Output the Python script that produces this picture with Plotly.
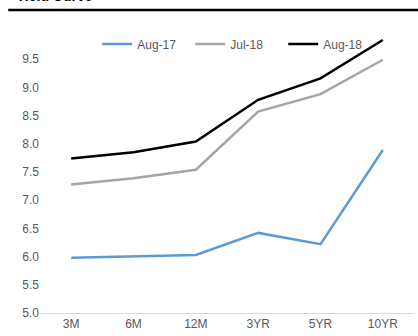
import plotly.graph_objects as go

categories = ["3M", "6M", "12M", "3YR", "5YR", "10YR"]
aug17 = [5.98, 6.00, 6.03, 6.42, 6.22, 7.89]
jul18 = [7.28, 7.39, 7.54, 8.57, 8.88, 9.49]
aug18 = [7.74, 7.85, 8.04, 8.78, 9.16, 9.84]
series_names = ["Aug-17", "Jul-18", "Aug-18"]
series_colors = ["#5b9bd5", "#a5a5a5", "#000000"]
ytick_vals = [5.0, 5.5, 6.0, 6.5, 7.0, 7.5, 8.0, 8.5, 9.0, 9.5]

FONT = "Liberation Sans Narrow, Arial Narrow, Liberation Sans, Arial"

fig = go.Figure()
for name, vals, col in zip(series_names, [aug17, jul18, aug18], series_colors):
    fig.add_trace(go.Scatter(x=categories, y=vals, mode="lines", name=name,
                             line=dict(color=col, width=2.5), cliponaxis=False))

fig.update_layout(
    width=418, height=336,
    margin=dict(l=40, r=4, t=31, b=23),
    paper_bgcolor="white", plot_bgcolor="white",
    font=dict(family=FONT, size=12, color="#595959"),
    showlegend=True,
    legend=dict(orientation="h", x=0.153, y=1 - 13 / 282, xanchor="left", yanchor="middle",
                font=dict(family=FONT, size=12, color="#595959"),
                bgcolor="rgba(0,0,0,0)", itemwidth=30, tracegroupgap=0,
                entrywidth=48, entrywidthmode="pixels"),
    xaxis=dict(type="category", range=[-0.5, 5.5], showgrid=False, zeroline=False,
               showline=True, linecolor="#d9d9d9", linewidth=1, ticks="",
               tickfont=dict(family=FONT, size=12, color="#595959")),
    yaxis=dict(range=[5.0, 10.0], tickvals=ytick_vals,
               ticktext=[f"{v:.1f}" for v in ytick_vals],
               showgrid=False, zeroline=False, showline=False, ticks="",
               tickfont=dict(family=FONT, size=12, color="#595959")),
    shapes=[dict(type="line", xref="paper", yref="paper", x0=-0.085, x1=1.02,
                 y0=1 + (31 - 10) / 282, y1=1 + (31 - 10) / 282,
                 line=dict(color="black", width=2.5))],
    annotations=[dict(text="<b>Yield Curve</b>", xref="paper", yref="paper",
                      x=-0.07, y=1 + (31 - 6) / 282, xanchor="left", yanchor="bottom",
                      showarrow=False, font=dict(family="Liberation Sans, Arial", size=14, color="black"))],
)

fig.write_html("out.html")
